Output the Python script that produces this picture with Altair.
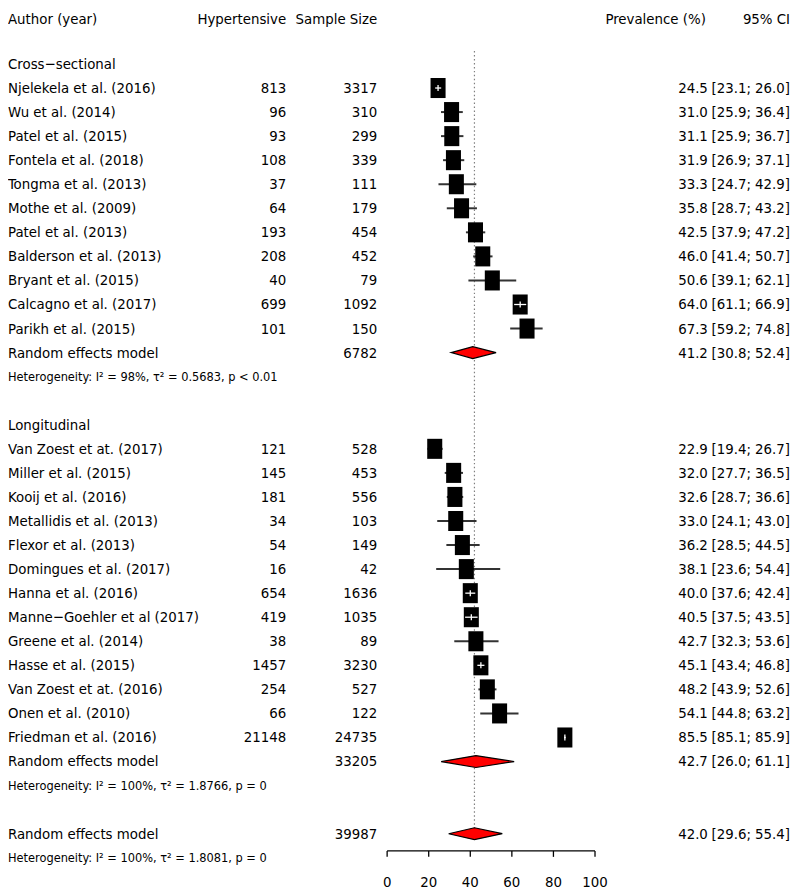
import altair as alt
import pandas as pd

# ---------------- data ----------------
header = ["Author (year)", "Hypertensive", "Sample Size", "Prevalence (%)", "95% CI"]
group_names = ["Cross\u2212sectional", "Longitudinal"]

cs_authors = ["Njelekela et al. (2016)", "Wu et al. (2014)", "Patel et al. (2015)",
              "Fontela et al. (2018)", "Tongma et al. (2013)", "Mothe et al. (2009)",
              "Patel et al. (2013)", "Balderson et al. (2013)", "Bryant et al. (2015)",
              "Calcagno et al. (2017)", "Parikh et al. (2015)"]
cs_events = [813, 96, 93, 108, 37, 64, 193, 208, 40, 699, 101]
cs_total = [3317, 310, 299, 339, 111, 179, 454, 452, 79, 1092, 150]
cs_prev = [24.5, 31.0, 31.1, 31.9, 33.3, 35.8, 42.5, 46.0, 50.6, 64.0, 67.3]
cs_lower = [23.1, 25.9, 25.9, 26.9, 24.7, 28.7, 37.9, 41.4, 39.1, 61.1, 59.2]
cs_upper = [26.0, 36.4, 36.7, 37.1, 42.9, 43.2, 47.2, 50.7, 62.1, 66.9, 74.8]

lg_authors = ["Van Zoest et at. (2017)", "Miller et al. (2015)", "Kooij et al. (2016)",
              "Metallidis et al. (2013)", "Flexor et al. (2013)", "Domingues et al. (2017)",
              "Hanna et al. (2016)", "Manne\u2212Goehler et al (2017)", "Greene et al. (2014)",
              "Hasse et al. (2015)", "Van Zoest et at. (2016)", "Onen et al. (2010)",
              "Friedman et al. (2016)"]
lg_events = [121, 145, 181, 34, 54, 16, 654, 419, 38, 1457, 254, 66, 21148]
lg_total = [528, 453, 556, 103, 149, 42, 1636, 1035, 89, 3230, 527, 122, 24735]
lg_prev = [22.9, 32.0, 32.6, 33.0, 36.2, 38.1, 40.0, 40.5, 42.7, 45.1, 48.2, 54.1, 85.5]
lg_lower = [19.4, 27.7, 28.7, 24.1, 28.5, 23.6, 37.6, 37.5, 32.3, 43.4, 43.9, 44.8, 85.1]
lg_upper = [26.7, 36.5, 36.6, 43.0, 44.5, 54.4, 42.4, 43.5, 53.6, 46.8, 52.6, 63.2, 85.9]

summary_label = "Random effects model"
summary_total = [6782, 33205, 39987]
summary_prev = [41.2, 42.7, 42.0]
summary_lower = [30.8, 26.0, 29.6]
summary_upper = [52.4, 61.1, 55.4]
het_texts = ["Heterogeneity: I\u00b2 = 98%, \u03c4\u00b2 = 0.5683, p < 0.01",
             "Heterogeneity: I\u00b2 = 100%, \u03c4\u00b2 = 1.8766, p = 0",
             "Heterogeneity: I\u00b2 = 100%, \u03c4\u00b2 = 1.8081, p = 0"]
axis_ticks = [0, 20, 40, 60, 80, 100]

# ---------------- layout ----------------
W, H = 792, 888
PX_PER_UNIT = 2.1
X0_PX = 383.0           # pixel of prevalence 0
ROW0_PX = 76.3          # pixel of first study row
ROW_STEP = 24.3
FONT = "DejaVu Sans Condensed, Liberation Sans, sans-serif"
FS = 15
FS_HET = 12.8

xs = alt.Scale(domain=[-X0_PX / PX_PER_UNIT, (W - X0_PX) / PX_PER_UNIT], nice=False, zero=False)
ys = alt.Scale(domain=[-ROW0_PX / ROW_STEP, (H - ROW0_PX) / ROW_STEP], nice=False, zero=False, reverse=True)

def fmt(v):
    return f"{v:.1f}"

def ci(lo, hi):
    return f"[{fmt(lo)}; {fmt(hi)}]"

def px_row(p):
    return (p - ROW0_PX) / ROW_STEP

HDR_ROW = px_row(7)
studies, texts, hets, diamonds = [], [], [], []
groups = [
    (group_names[0], cs_authors, cs_events, cs_total, cs_prev, cs_lower, cs_upper),
    (group_names[1], lg_authors, lg_events, lg_total, lg_prev, lg_lower, lg_upper),
]
texts.append(dict(row=HDR_ROW, label=header[0], ev=header[1], tot=header[2], est="", ci=header[4]))
r = -1
half_box = 7.5 / PX_PER_UNIT
for gi, (gname, au, ev, tot, pr, lo, hi) in enumerate(groups):
    texts.append(dict(row=r, label=gname, ev="", tot="", est="", ci=""))
    r += 1
    for i in range(len(au)):
        inside = (hi[i] - pr[i] < half_box) and (pr[i] - lo[i] < half_box)
        studies.append(dict(row=r, est=pr[i], lo=lo[i], hi=hi[i], inside=inside))
        texts.append(dict(row=r, label=au[i], ev=str(ev[i]), tot=str(tot[i]),
                          est=fmt(pr[i]), ci=ci(lo[i], hi[i])))
        r += 1
    texts.append(dict(row=r, label=summary_label, ev="", tot=str(summary_total[gi]),
                      est=fmt(summary_prev[gi]), ci=ci(summary_lower[gi], summary_upper[gi])))
    diamonds.append((gi, r, summary_prev[gi], summary_lower[gi], summary_upper[gi]))
    hets.append(dict(row=r + 1, label=het_texts[gi]))
    r += 3
texts.append(dict(row=r, label=summary_label, ev="", tot=str(summary_total[2]),
                  est=fmt(summary_prev[2]), ci=ci(summary_lower[2], summary_upper[2])))
diamonds.append((2, r, summary_prev[2], summary_lower[2], summary_upper[2]))
hets.append(dict(row=r + 1, label=het_texts[2]))
overall_row = r

st = pd.DataFrame(studies)
tx = pd.DataFrame(texts)
ht = pd.DataFrame(hets)
hdr_prev = pd.DataFrame(dict(row=[HDR_ROW], label=[header[3]]))
dh = 6.0 / ROW_STEP
dm = []
for gid, rr, e, lo, hi in diamonds:
    dm += [dict(id=gid, x=lo, y1=rr, y2=rr), dict(id=gid, x=e, y1=rr - dh, y2=rr + dh),
           dict(id=gid, x=hi, y1=rr, y2=rr)]
dm = pd.DataFrame(dm)

axis_row = px_row(847)
tick_end = px_row(853)
label_row = px_row(878)
ax = pd.DataFrame(dict(t=axis_ticks, y=[axis_row] * len(axis_ticks), y2=[tick_end] * len(axis_ticks),
                       ly=[label_row] * len(axis_ticks), lab=[str(t) for t in axis_ticks]))
axline = pd.DataFrame(dict(a=[axis_ticks[0]], b=[axis_ticks[-1]], y=[axis_row]))
ref = pd.DataFrame(dict(x=[summary_prev[2]], ya=[px_row(39)], yb=[overall_row]))

X = lambda f: alt.X(f, scale=xs, axis=None)
Y = lambda f: alt.Y(f, scale=ys, axis=None)

refline = alt.Chart(ref).mark_rule(color="#808080", strokeDash=[1.5, 2.5], strokeWidth=1.2).encode(
    x=X("x:Q"), y=Y("ya:Q"), y2="yb:Q")
cilines = alt.Chart(st).mark_rule(color="#333333", strokeWidth=2).encode(
    x=X("lo:Q"), x2="hi:Q", y=Y("row:Q"))
boxes = alt.Chart(st).mark_point(shape="M-0.75,-1L0.75,-1L0.75,1L-0.75,1Z", filled=True,
                                 fill="black", size=410, opacity=1, strokeWidth=0).encode(
    x=X("est:Q"), y=Y("row:Q"))
st_in = st[st["inside"]].copy()
st_in["ya"] = st_in["row"] - 3 / ROW_STEP
st_in["yb"] = st_in["row"] + 3 / ROW_STEP
white_h = alt.Chart(st_in).mark_rule(color="white", strokeWidth=1.3).encode(
    x=X("lo:Q"), x2="hi:Q", y=Y("row:Q"))
white_v = alt.Chart(st_in).mark_rule(color="white", strokeWidth=1.3).encode(
    x=X("est:Q"), y=Y("ya:Q"), y2="yb:Q")
diam = alt.Chart(dm).mark_area(color="#FF0000", stroke="black", strokeWidth=1.2, opacity=1,
                               interpolate="linear").encode(
    x=X("x:Q"), y=Y("y1:Q"), y2="y2:Q", detail="id:N")

def col(field, xpx, align, size=FS, data=tx):
    return alt.Chart(data).mark_text(align=align, baseline="middle", font=FONT, fontSize=size,
                                     color="black").encode(
        x=alt.value(xpx), y=Y("row:Q"), text=f"{field}:N")

t_label = col("label", 0, "left")
t_ev = col("ev", 281, "right")
t_tot = col("tot", 373, "right")
t_est = col("est", 707, "right")
t_ci = col("ci", 790, "right")
t_het = col("label", 0, "left", FS_HET, ht)
t_hprev = col("label", 705, "right", FS, hdr_prev)

axis_l = alt.Chart(axline).mark_rule(color="black", strokeWidth=1.3).encode(
    x=X("a:Q"), x2="b:Q", y=Y("y:Q"))
axis_t = alt.Chart(ax).mark_rule(color="black", strokeWidth=1.3).encode(
    x=X("t:Q"), y=Y("y:Q"), y2="y2:Q")
axis_lab = alt.Chart(ax).mark_text(align="center", baseline="middle", font=FONT, fontSize=15,
                                   color="black").encode(
    x=X("t:Q"), y=Y("ly:Q"), text="lab:N")

chart = alt.layer(refline, cilines, boxes, white_h, white_v, diam,
                  t_label, t_ev, t_tot, t_est, t_ci, t_het, t_hprev,
                  axis_l, axis_t, axis_lab).properties(
    width=W, height=H, padding=0, autosize=alt.AutoSizeParams(type="none")
).configure_view(stroke=None)

chart.save("out.html", embed_options={"renderer": "svg", "actions": False})
